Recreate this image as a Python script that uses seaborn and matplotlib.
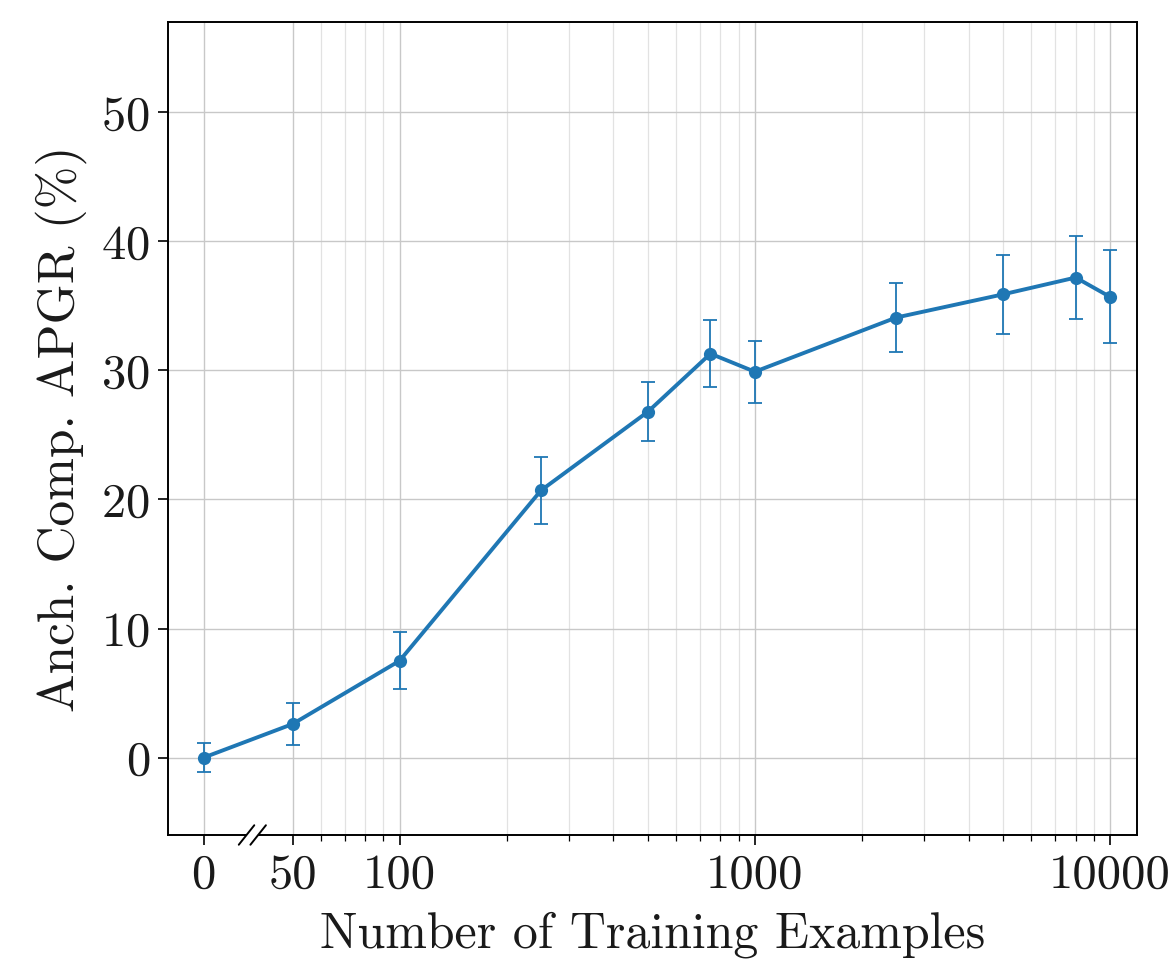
import numpy as np
import pandas as pd
import matplotlib
matplotlib.use("Agg")
import matplotlib.pyplot as plt
import matplotlib.ticker as mticker
import seaborn as sns

# ---- data ----
n_examples = [0, 50, 100, 250, 500, 750, 1000, 2500, 5000, 8000, 10000]
apgr_mean = [0.0, 2.6, 7.5, 20.7, 26.8, 31.3, 29.9, 34.1, 35.9, 37.2, 35.7]
apgr_err = [1.15, 1.6, 2.2, 2.6, 2.3, 2.6, 2.4, 2.7, 3.05, 3.2, 3.6]
x_tick_values = [0, 50, 100, 1000, 10000]
x_tick_labels = ["0", "50", "100", "1000", "10000"]
y_ticks = [0, 10, 20, 30, 40, 50]

ZERO_POS = 28.1  # where "0" sits on the broken log axis

sns.set_theme(style="white")
plt.rcParams["font.family"] = "serif"
plt.rcParams["font.serif"] = ["cmr10", "DejaVu Serif"]
plt.rcParams["mathtext.fontset"] = "cm"
plt.rcParams["axes.formatter.use_mathtext"] = True
plt.rcParams["axes.unicode_minus"] = False

def to_pos(v):
    return ZERO_POS if v == 0 else v

df = pd.DataFrame({
    "x": [to_pos(v) for v in n_examples],
    "y": apgr_mean,
    "err": apgr_err,
})

fig = plt.figure(figsize=(11.76, 9.75), dpi=100)
ax = fig.add_axes([0.1429, 0.1436, 0.8239, 0.8338])
ax.set_xscale("log")

color = "#1f77b4"
ax.errorbar(df["x"], df["y"], yerr=df["err"], fmt="none", ecolor=color,
            elinewidth=1.3, capsize=5, capthick=1.3, zorder=3)
sns.lineplot(data=df, x="x", y="y", ax=ax, color=color, linewidth=2.8,
             marker="o", markersize=9.5, markeredgewidth=0, zorder=4)

ax.set_xlim(22.3, 11900)
ax.set_ylim(-6.0, 57.0)

ax.xaxis.set_major_locator(mticker.FixedLocator([to_pos(v) for v in x_tick_values]))
ax.xaxis.set_major_formatter(mticker.FixedFormatter(x_tick_labels))
minor = [m * 10 ** e for e in (1, 2, 3) for m in range(2, 10)]
minor = [v for v in minor if v > 50 and v < 10000]
ax.xaxis.set_minor_locator(mticker.FixedLocator(minor))
ax.xaxis.set_minor_formatter(mticker.NullFormatter())
ax.set_yticks(y_ticks)

ax.grid(which="major", color="#c8c8c8", linewidth=1.0)
ax.grid(which="minor", axis="x", color="#e2e2e2", linewidth=0.9)
ax.set_axisbelow(True)

for s in ax.spines.values():
    s.set_color("black")
    s.set_linewidth(1.4)

txt = "#1a1a1a"
ax.tick_params(axis="both", which="major", direction="out", length=7, width=1.2,
               labelsize=35, colors="black", labelcolor=txt, pad=6, bottom=True, left=True)
ax.tick_params(axis="x", which="minor", direction="out", length=4, width=0.9,
               colors="black", bottom=True)

ax.set_xlabel("Number of Training Examples", fontsize=36, labelpad=10, color=txt)
ax.set_ylabel("Anch. Comp. APGR (%)", fontsize=37, labelpad=10, color=txt)

# break marks on the x-axis
xb = 0.087
for dx in (-0.006, 0.006):
    ax.plot([xb + dx - 0.008, xb + dx + 0.008], [-0.012, 0.012],
            transform=ax.transAxes, color="black", linewidth=1.4, clip_on=False, zorder=5)
ax.plot([xb - 0.004, xb + 0.004], [0, 0], transform=ax.transAxes,
        color="white", linewidth=3, clip_on=False, zorder=4.5)

fig.savefig("out.png", dpi=100)
